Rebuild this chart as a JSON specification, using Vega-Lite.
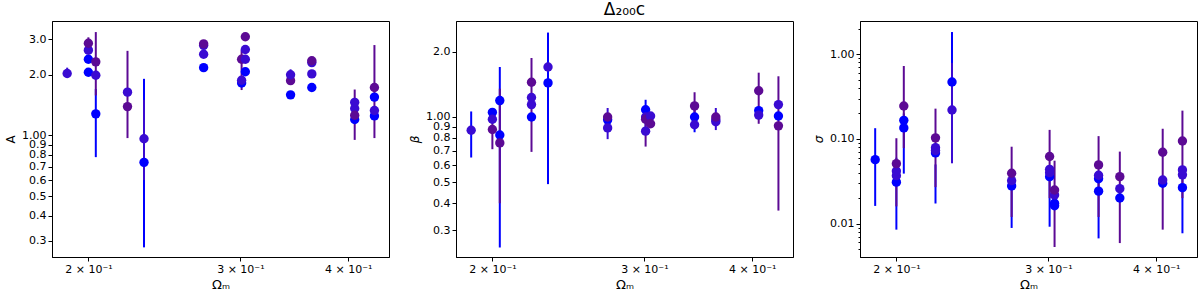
{
  "$schema": "https://vega.github.io/schema/vega-lite/v6.json",
  "padding": {"left": 4, "top": 0, "right": 0, "bottom": 0},
  "autosize": {"type": "pad"},
  "background": "white",
  "config": {
    "view": {"stroke": "#000000", "strokeWidth": 1},
    "axis": {"grid": false, "labelFont": "DejaVu Sans", "labelFontSize": 11, "labelColor": "#000", "tickColor": "#000", "domainColor": "#000", "tickSize": 4, "titleFont": "DejaVu Sans", "titleFontSize": 12, "titleFontWeight": "normal", "titleColor": "#000", "labelOverlap": false, "labelFlush": false, "labelBound": false},
    "title": {"font": "DejaVu Sans", "fontSize": 17, "fontWeight": "normal", "color": "#000"}
  },
  "datasets": {
    "A_pts": [
      {"om": 0.189, "v": 2.03, "c": "m"},
      {"om": 0.2, "v": 2.06, "c": "b"}, {"om": 0.2, "v": 2.39, "c": "b"}, {"om": 0.2, "v": 2.65, "c": "m"}, {"om": 0.2, "v": 2.87, "c": "p"},
      {"om": 0.204, "v": 1.28, "c": "b"}, {"om": 0.204, "v": 1.99, "c": "m"}, {"om": 0.204, "v": 2.32, "c": "p"},
      {"om": 0.222, "v": 1.39, "c": "p"}, {"om": 0.222, "v": 1.64, "c": "m"},
      {"om": 0.232, "v": 0.735, "c": "b"}, {"om": 0.232, "v": 0.963, "c": "m"},
      {"om": 0.272, "v": 2.17, "c": "b"}, {"om": 0.272, "v": 2.53, "c": "m"}, {"om": 0.272, "v": 2.80, "c": "m"}, {"om": 0.272, "v": 2.85, "c": "p"},
      {"om": 0.301, "v": 1.82, "c": "b"}, {"om": 0.301, "v": 1.88, "c": "m"}, {"om": 0.301, "v": 2.39, "c": "p"},
      {"om": 0.304, "v": 2.07, "c": "b"}, {"om": 0.304, "v": 2.39, "c": "m"}, {"om": 0.304, "v": 2.67, "c": "m"}, {"om": 0.304, "v": 3.09, "c": "p"},
      {"om": 0.343, "v": 1.59, "c": "b"}, {"om": 0.343, "v": 1.87, "c": "p"}, {"om": 0.343, "v": 2.0, "c": "m"},
      {"om": 0.363, "v": 1.73, "c": "b"}, {"om": 0.363, "v": 2.02, "c": "m"}, {"om": 0.363, "v": 2.30, "c": "m"}, {"om": 0.363, "v": 2.35, "c": "p"},
      {"om": 0.407, "v": 1.20, "c": "b"}, {"om": 0.407, "v": 1.36, "c": "m"}, {"om": 0.407, "v": 1.46, "c": "m"}, {"om": 0.407, "v": 1.26, "c": "p"},
      {"om": 0.429, "v": 1.25, "c": "b"}, {"om": 0.429, "v": 1.55, "c": "b"}, {"om": 0.429, "v": 1.33, "c": "m"}, {"om": 0.429, "v": 1.73, "c": "p"}
    ],
    "A_err": [
      {"om": 0.189, "lo": 1.94, "hi": 2.17, "c": "m"},
      {"om": 0.2, "lo": 2.75, "hi": 3.07, "c": "p"},
      {"om": 0.204, "lo": 0.78, "hi": 1.7, "c": "b"},
      {"om": 0.204, "lo": 1.58, "hi": 3.26, "c": "p"},
      {"om": 0.222, "lo": 0.97, "hi": 2.63, "c": "p"},
      {"om": 0.232, "lo": 0.278, "hi": 1.91, "c": "b"},
      {"om": 0.232, "lo": 0.6, "hi": 1.5, "c": "m"},
      {"om": 0.301, "lo": 1.68, "hi": 2.65, "c": "p"},
      {"om": 0.343, "lo": 1.86, "hi": 2.13, "c": "m"},
      {"om": 0.363, "lo": 2.25, "hi": 2.45, "c": "p"},
      {"om": 0.407, "lo": 0.95, "hi": 1.69, "c": "p"},
      {"om": 0.429, "lo": 0.97, "hi": 2.81, "c": "p"}
    ],
    "B_pts": [
      {"om": 0.189, "v": 0.868, "c": "m"},
      {"om": 0.2, "v": 1.05, "c": "b"}, {"om": 0.2, "v": 0.976, "c": "m"}, {"om": 0.2, "v": 0.875, "c": "p"},
      {"om": 0.204, "v": 1.19, "c": "b"}, {"om": 0.204, "v": 0.826, "c": "b"}, {"om": 0.204, "v": 0.759, "c": "p"},
      {"om": 0.222, "v": 1.0, "c": "b"}, {"om": 0.222, "v": 1.14, "c": "m"}, {"om": 0.222, "v": 1.23, "c": "m"}, {"om": 0.222, "v": 1.446, "c": "p"},
      {"om": 0.232, "v": 1.435, "c": "b"}, {"om": 0.232, "v": 1.70, "c": "m"},
      {"om": 0.272, "v": 0.97, "c": "b"}, {"om": 0.272, "v": 0.89, "c": "m"}, {"om": 0.272, "v": 1.0, "c": "p"},
      {"om": 0.301, "v": 1.08, "c": "b"}, {"om": 0.301, "v": 1.0, "c": "m"}, {"om": 0.301, "v": 0.86, "c": "m"}, {"om": 0.301, "v": 0.976, "c": "p"},
      {"om": 0.305, "v": 1.01, "c": "m"}, {"om": 0.305, "v": 0.93, "c": "p"},
      {"om": 0.343, "v": 1.0, "c": "b"}, {"om": 0.343, "v": 0.92, "c": "m"}, {"om": 0.343, "v": 1.124, "c": "p"},
      {"om": 0.363, "v": 0.95, "c": "m"}, {"om": 0.363, "v": 0.97, "c": "m"}, {"om": 0.363, "v": 1.0, "c": "p"},
      {"om": 0.407, "v": 1.07, "c": "b"}, {"om": 0.407, "v": 1.02, "c": "m"}, {"om": 0.407, "v": 1.32, "c": "p"},
      {"om": 0.429, "v": 1.01, "c": "b"}, {"om": 0.429, "v": 1.14, "c": "m"}, {"om": 0.429, "v": 0.91, "c": "p"}
    ],
    "B_err": [
      {"om": 0.189, "lo": 0.65, "hi": 1.06, "c": "b"},
      {"om": 0.2, "lo": 0.71, "hi": 1.08, "c": "p"},
      {"om": 0.204, "lo": 0.25, "hi": 1.70, "c": "b"},
      {"om": 0.204, "lo": 0.4, "hi": 1.35, "c": "p"},
      {"om": 0.222, "lo": 0.69, "hi": 1.87, "c": "p"},
      {"om": 0.232, "lo": 0.49, "hi": 2.45, "c": "b"},
      {"om": 0.272, "lo": 0.79, "hi": 1.10, "c": "m"},
      {"om": 0.301, "lo": 0.85, "hi": 1.20, "c": "b"},
      {"om": 0.301, "lo": 0.73, "hi": 1.05, "c": "p"},
      {"om": 0.343, "lo": 0.85, "hi": 1.1, "c": "b"},
      {"om": 0.343, "lo": 0.9, "hi": 1.30, "c": "p"},
      {"om": 0.363, "lo": 0.87, "hi": 1.10, "c": "m"},
      {"om": 0.407, "lo": 0.93, "hi": 1.60, "c": "p"},
      {"om": 0.429, "lo": 0.37, "hi": 1.54, "c": "p"}
    ],
    "C_pts": [
      {"om": 0.189, "v": 0.057, "c": "b"},
      {"om": 0.2, "v": 0.0309, "c": "b"}, {"om": 0.2, "v": 0.0369, "c": "m"}, {"om": 0.2, "v": 0.0419, "c": "m"}, {"om": 0.2, "v": 0.0511, "c": "p"},
      {"om": 0.204, "v": 0.135, "c": "b"}, {"om": 0.204, "v": 0.166, "c": "b"}, {"om": 0.204, "v": 0.245, "c": "p"},
      {"om": 0.222, "v": 0.0685, "c": "b"}, {"om": 0.222, "v": 0.073, "c": "m"}, {"om": 0.222, "v": 0.079, "c": "m"}, {"om": 0.222, "v": 0.103, "c": "p"},
      {"om": 0.232, "v": 0.471, "c": "b"}, {"om": 0.232, "v": 0.220, "c": "m"},
      {"om": 0.272, "v": 0.0279, "c": "b"}, {"om": 0.272, "v": 0.0322, "c": "m"}, {"om": 0.272, "v": 0.0394, "c": "p"},
      {"om": 0.301, "v": 0.0359, "c": "b"}, {"om": 0.301, "v": 0.040, "c": "m"}, {"om": 0.301, "v": 0.0438, "c": "m"}, {"om": 0.301, "v": 0.062, "c": "p"},
      {"om": 0.305, "v": 0.0163, "c": "b"}, {"om": 0.305, "v": 0.0174, "c": "b"}, {"om": 0.305, "v": 0.0218, "c": "m"}, {"om": 0.305, "v": 0.025, "c": "p"},
      {"om": 0.343, "v": 0.0242, "c": "b"}, {"om": 0.343, "v": 0.0339, "c": "b"}, {"om": 0.343, "v": 0.0373, "c": "m"}, {"om": 0.343, "v": 0.0494, "c": "p"},
      {"om": 0.363, "v": 0.0201, "c": "b"}, {"om": 0.363, "v": 0.0259, "c": "m"}, {"om": 0.363, "v": 0.0359, "c": "p"},
      {"om": 0.407, "v": 0.0300, "c": "b"}, {"om": 0.407, "v": 0.0328, "c": "m"}, {"om": 0.407, "v": 0.0696, "c": "p"},
      {"om": 0.429, "v": 0.0266, "c": "b"}, {"om": 0.429, "v": 0.0377, "c": "m"}, {"om": 0.429, "v": 0.0431, "c": "m"}, {"om": 0.429, "v": 0.0946, "c": "p"}
    ],
    "C_err": [
      {"om": 0.189, "lo": 0.0162, "hi": 0.134, "c": "b"},
      {"om": 0.2, "lo": 0.0085, "hi": 0.06, "c": "b"},
      {"om": 0.2, "lo": 0.016, "hi": 0.102, "c": "p"},
      {"om": 0.204, "lo": 0.039, "hi": 0.2, "c": "b"},
      {"om": 0.204, "lo": 0.078, "hi": 0.727, "c": "p"},
      {"om": 0.222, "lo": 0.0173, "hi": 0.05, "c": "b"},
      {"om": 0.222, "lo": 0.027, "hi": 0.228, "c": "p"},
      {"om": 0.232, "lo": 0.1, "hi": 1.83, "c": "b"},
      {"om": 0.232, "lo": 0.0516, "hi": 0.79, "c": "m"},
      {"om": 0.272, "lo": 0.0089, "hi": 0.03, "c": "b"},
      {"om": 0.272, "lo": 0.012, "hi": 0.081, "c": "p"},
      {"om": 0.301, "lo": 0.0092, "hi": 0.04, "c": "b"},
      {"om": 0.301, "lo": 0.02, "hi": 0.128, "c": "p"},
      {"om": 0.305, "lo": 0.0053, "hi": 0.0554, "c": "p"},
      {"om": 0.343, "lo": 0.0067, "hi": 0.035, "c": "b"},
      {"om": 0.343, "lo": 0.012, "hi": 0.108, "c": "p"},
      {"om": 0.363, "lo": 0.0059, "hi": 0.0709, "c": "p"},
      {"om": 0.407, "lo": 0.0085, "hi": 0.132, "c": "p"},
      {"om": 0.429, "lo": 0.0077, "hi": 0.04, "c": "b"},
      {"om": 0.429, "lo": 0.02, "hi": 0.216, "c": "p"}
    ]
  },
  "hconcat": [
    {
      "width": 337, "height": 236,
      "layer": [
        {
          "data": {"name": "A_err"},
          "mark": {"type": "rule", "strokeWidth": 2, "clip": true},
          "encoding": {
            "x": {"field": "om", "type": "quantitative", "scale": {"type": "log", "domain": [0.1815, 0.446], "nice": false}, "axis": {"title": "Ωₘ", "titleFontSize": 13, "values": [0.2, 0.3, 0.4], "labelExpr": "format(datum.value*10,'d') + ' × 10⁻¹'"}},
            "y": {"field": "lo", "type": "quantitative", "scale": {"type": "log", "domain": [0.249, 3.70], "nice": false}, "axis": {"title": "A", "values": [0.3, 0.4, 0.5, 0.6, 0.7, 0.8, 0.9, 1, 2, 3], "labelExpr": "datum.value == 1 ? '1.00' : format(datum.value, '.1f')"}},
            "y2": {"field": "hi"},
            "color": {"field": "c", "type": "nominal", "scale": {"domain": ["b", "m", "p"], "range": ["#0000ff", "#3a0bd2", "#5c0a94"]}, "legend": null}
          }
        },
        {
          "data": {"name": "A_pts"},
          "mark": {"type": "circle", "size": 88, "opacity": 1},
          "encoding": {
            "x": {"field": "om", "type": "quantitative", "scale": {"type": "log", "domain": [0.1815, 0.446], "nice": false}, "axis": {"title": "Ωₘ", "titleFontSize": 13, "values": [0.2, 0.3, 0.4], "labelExpr": "format(datum.value*10,'d') + ' × 10⁻¹'"}},
            "y": {"field": "v", "type": "quantitative", "scale": {"type": "log", "domain": [0.249, 3.70], "nice": false}, "axis": {"title": "A", "values": [0.3, 0.4, 0.5, 0.6, 0.7, 0.8, 0.9, 1, 2, 3], "labelExpr": "datum.value == 1 ? '1.00' : format(datum.value, '.1f')"}},
            "color": {"field": "c", "type": "nominal", "scale": {"domain": ["b", "m", "p"], "range": ["#0000ff", "#3a0bd2", "#5c0a94"]}, "legend": null}
          }
        }
      ]
    },
    {
      "width": 337, "height": 236,
      "title": {"text": "Δ₂₀₀c", "offset": 2},
      "layer": [
        {
          "data": {"name": "B_err"},
          "mark": {"type": "rule", "strokeWidth": 2, "clip": true},
          "encoding": {
            "x": {"field": "om", "type": "quantitative", "scale": {"type": "log", "domain": [0.1815, 0.446], "nice": false}, "axis": {"title": "Ωₘ", "titleFontSize": 13, "values": [0.2, 0.3, 0.4], "labelExpr": "format(datum.value*10,'d') + ' × 10⁻¹'"}},
            "y": {"field": "lo", "type": "quantitative", "scale": {"type": "log", "domain": [0.226, 2.77], "nice": false}, "axis": {"title": "β", "titleFontStyle": "italic", "values": [0.3, 0.4, 0.5, 0.6, 0.7, 0.8, 0.9, 1, 2], "labelExpr": "datum.value == 1 ? '1.00' : format(datum.value, '.1f')"}},
            "y2": {"field": "hi"},
            "color": {"field": "c", "type": "nominal", "scale": {"domain": ["b", "m", "p"], "range": ["#0000ff", "#3a0bd2", "#5c0a94"]}, "legend": null}
          }
        },
        {
          "data": {"name": "B_pts"},
          "mark": {"type": "circle", "size": 88, "opacity": 1},
          "encoding": {
            "x": {"field": "om", "type": "quantitative", "scale": {"type": "log", "domain": [0.1815, 0.446], "nice": false}, "axis": {"title": "Ωₘ", "titleFontSize": 13, "values": [0.2, 0.3, 0.4], "labelExpr": "format(datum.value*10,'d') + ' × 10⁻¹'"}},
            "y": {"field": "v", "type": "quantitative", "scale": {"type": "log", "domain": [0.226, 2.77], "nice": false}, "axis": {"title": "β", "titleFontStyle": "italic", "values": [0.3, 0.4, 0.5, 0.6, 0.7, 0.8, 0.9, 1, 2], "labelExpr": "datum.value == 1 ? '1.00' : format(datum.value, '.1f')"}},
            "color": {"field": "c", "type": "nominal", "scale": {"domain": ["b", "m", "p"], "range": ["#0000ff", "#3a0bd2", "#5c0a94"]}, "legend": null}
          }
        }
      ]
    },
    {
      "width": 337, "height": 236,
      "resolve": {"axis": {"y": "independent"}},
      "layer": [
        {
          "data": {"name": "C_err"},
          "mark": {"type": "rule", "strokeWidth": 2, "clip": true},
          "encoding": {
            "x": {"field": "om", "type": "quantitative", "scale": {"type": "log", "domain": [0.1815, 0.446], "nice": false}, "axis": {"title": "Ωₘ", "titleFontSize": 13, "values": [0.2, 0.3, 0.4], "labelExpr": "format(datum.value*10,'d') + ' × 10⁻¹'"}},
            "y": {"field": "lo", "type": "quantitative", "scale": {"type": "log", "domain": [0.00404, 2.47], "nice": false}, "axis": {"orient": "left", "title": null, "labels": false, "domain": false, "tickSize": 2, "values": [0.005, 0.006, 0.007, 0.008, 0.009, 0.02, 0.03, 0.04, 0.05, 0.06, 0.07, 0.08, 0.09, 0.2, 0.3, 0.4, 0.5, 0.6, 0.7, 0.8, 0.9, 2]}},
            "y2": {"field": "hi"},
            "color": {"field": "c", "type": "nominal", "scale": {"domain": ["b", "m", "p"], "range": ["#0000ff", "#3a0bd2", "#5c0a94"]}, "legend": null}
          }
        },
        {
          "data": {"name": "C_pts"},
          "mark": {"type": "circle", "size": 88, "opacity": 1},
          "encoding": {
            "x": {"field": "om", "type": "quantitative", "scale": {"type": "log", "domain": [0.1815, 0.446], "nice": false}, "axis": {"title": "Ωₘ", "titleFontSize": 13, "values": [0.2, 0.3, 0.4], "labelExpr": "format(datum.value*10,'d') + ' × 10⁻¹'"}},
            "y": {"field": "v", "type": "quantitative", "scale": {"type": "log", "domain": [0.00404, 2.47], "nice": false}, "axis": {"orient": "left", "title": "σ", "titleFontStyle": "italic", "values": [0.01, 0.1, 1], "labelExpr": "format(datum.value, '.2f')"}},
            "color": {"field": "c", "type": "nominal", "scale": {"domain": ["b", "m", "p"], "range": ["#0000ff", "#3a0bd2", "#5c0a94"]}, "legend": null}
          }
        }
      ]
    }
  ],
  "spacing": 67,
  "bounds": "flush"
}
